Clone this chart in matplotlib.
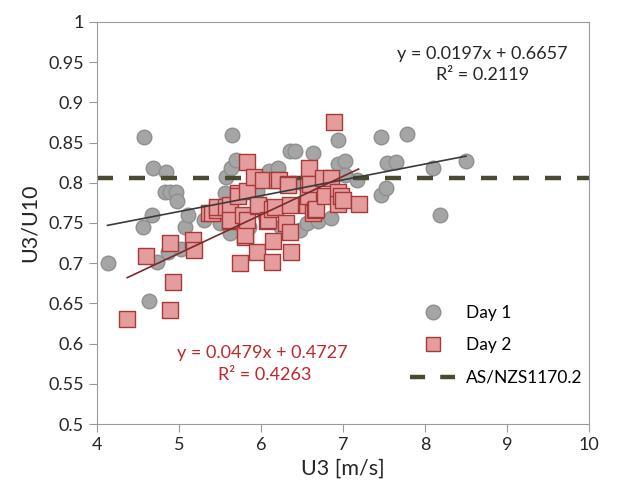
import numpy as np
import matplotlib.pyplot as plt
from matplotlib.lines import Line2D

plt.rcParams['font.family'] = ['Lato', 'DejaVu Sans']

# Day 1 (circles)
day1_u3 = [4.13, 4.56, 4.58, 4.63, 4.67, 4.69, 4.73, 4.83, 4.84, 4.87,
           4.89, 4.96, 4.98, 5.03, 5.07, 5.11, 5.30, 5.50, 5.52, 5.56,
           5.58, 5.62, 5.64, 5.65, 5.70, 5.75, 5.85, 5.95, 6.05, 6.10,
           6.21, 6.25, 6.35, 6.41, 6.48, 6.50, 6.56, 6.63, 6.70, 6.85,
           6.94, 6.94, 7.02, 7.02, 7.17, 7.46, 7.47, 7.53, 7.54, 7.65,
           7.78, 8.10, 8.18, 8.50]
day1_ratio = [0.700, 0.745, 0.857, 0.653, 0.760, 0.819, 0.702, 0.788, 0.814, 0.714,
              0.788, 0.788, 0.777, 0.718, 0.745, 0.760, 0.754, 0.750, 0.770, 0.787,
              0.807, 0.737, 0.819, 0.859, 0.828, 0.760, 0.745, 0.790, 0.760, 0.815,
              0.818, 0.745, 0.839, 0.839, 0.741, 0.800, 0.750, 0.837, 0.752, 0.756,
              0.853, 0.823, 0.827, 0.810, 0.803, 0.785, 0.857, 0.793, 0.825, 0.826,
              0.861, 0.819, 0.760, 0.827]

# Day 2 (squares)
day2_u3 = [4.37, 4.60, 4.89, 4.89, 4.93, 5.17, 5.19, 5.37, 5.40, 5.46,
           5.46, 5.58, 5.62, 5.62, 5.62, 5.72, 5.72, 5.74, 5.78, 5.80,
           5.80, 5.83, 5.83, 5.83, 5.91, 5.95, 5.97, 5.97, 6.03, 6.07,
           6.09, 6.13, 6.13, 6.15, 6.17, 6.19, 6.22, 6.31, 6.33, 6.33,
           6.35, 6.35, 6.37, 6.56, 6.58, 6.58, 6.59, 6.60, 6.64, 6.66,
           6.67, 6.76, 6.78, 6.86, 6.89, 6.94, 6.94, 6.98, 7.00, 7.19]
day2_ratio = [0.630, 0.709, 0.642, 0.725, 0.677, 0.729, 0.717, 0.762, 0.762, 0.766,
              0.770, 0.770, 0.772, 0.752, 0.754, 0.787, 0.783, 0.700, 0.760, 0.733,
              0.735, 0.826, 0.790, 0.754, 0.807, 0.714, 0.771, 0.772, 0.804, 0.752,
              0.754, 0.768, 0.702, 0.727, 0.770, 0.803, 0.803, 0.750, 0.799, 0.797,
              0.772, 0.739, 0.714, 0.772, 0.795, 0.783, 0.818, 0.799, 0.762, 0.766,
              0.768, 0.806, 0.783, 0.806, 0.876, 0.789, 0.774, 0.783, 0.779, 0.774]

# linear trends (from the chart labels)
day1_fit = (0.0197, 0.6657, 0.2119)
day2_fit = (0.0479, 0.4727, 0.4263)

code_ratio = 0.806  # AS/NZS1170.2

fig, ax = plt.subplots(figsize=(6.25, 4.95), dpi=100)
fig.subplots_adjust(left=0.155, right=0.9424, top=0.9556, bottom=0.1434)

ax.scatter(day1_u3, day1_ratio, s=110, marker='o', facecolor='#a5a5a5',
           edgecolor='#8f8f8f', linewidth=1.0, zorder=2, label='Day 1')
ax.plot([4, 10], [code_ratio, code_ratio], color='#4a4a2e', lw=3.2,
        dashes=(3.6, 3.6), zorder=2.5)
ax.scatter(day2_u3, day2_ratio, s=120, marker='s', facecolor='#e59c9c',
           edgecolor='#a63a3a', linewidth=1.0, zorder=3, label='Day 2')

for xs, (m, c, r2), col in [(day1_u3, day1_fit, '#3a3a3a'),
                            (day2_u3, day2_fit, '#7a2a2a')]:
    xl = np.array([min(xs), max(xs)])
    ax.plot(xl, m * xl + c, color=col, lw=1.2, zorder=4)

ax.text(8.70, 0.960, 'y = 0.0197x + 0.6657', ha='center', va='center',
        fontsize=13, color='#262626')
ax.text(8.70, 0.934, 'R² = 0.2119', ha='center', va='center',
        fontsize=13, color='#262626')
ax.text(6.02, 0.588, 'y = 0.0479x + 0.4727', ha='center', va='center',
        fontsize=13, color='#c0272d')
ax.text(6.05, 0.561, 'R² = 0.4263', ha='center', va='center',
        fontsize=13, color='#c0272d')

ax.set_xlim(4, 10)
ax.set_ylim(0.5, 1)
ax.set_xticks(range(4, 11))
ax.set_yticks(np.arange(0.5, 1.001, 0.05))
ax.set_yticklabels(['0.5', '0.55', '0.6', '0.65', '0.7', '0.75', '0.8',
                    '0.85', '0.9', '0.95', '1'])
ax.set_xlabel('U3 [m/s]', fontsize=15.5, color='#262626', labelpad=4)
ax.set_ylabel('U3/U10', fontsize=15.5, color='#262626', labelpad=6)

for s in ax.spines.values():
    s.set_color('#9a9a9a')
ax.tick_params(direction='out', length=6, color='#9a9a9a',
               labelsize=13, labelcolor='#262626')

handles = [
    Line2D([], [], marker='o', ls='none', markersize=10.5,
           markerfacecolor='#a5a5a5', markeredgecolor='#8f8f8f'),
    Line2D([], [], marker='s', ls='none', markersize=10,
           markerfacecolor='#e59c9c', markeredgecolor='#a63a3a'),
    Line2D([], [], color='#4a4a2e', lw=3.2, dashes=(3.4, 3.4)),
]
ax.legend(handles, ['Day 1', 'Day 2', 'AS/NZS1170.2'], loc='upper left',
          bbox_to_anchor=(0.605, 0.335), frameon=False, fontsize=12.5,
          handlelength=2.6, labelspacing=0.95, handletextpad=0.6)

plt.savefig('out.png', dpi=100)
plt.close()
